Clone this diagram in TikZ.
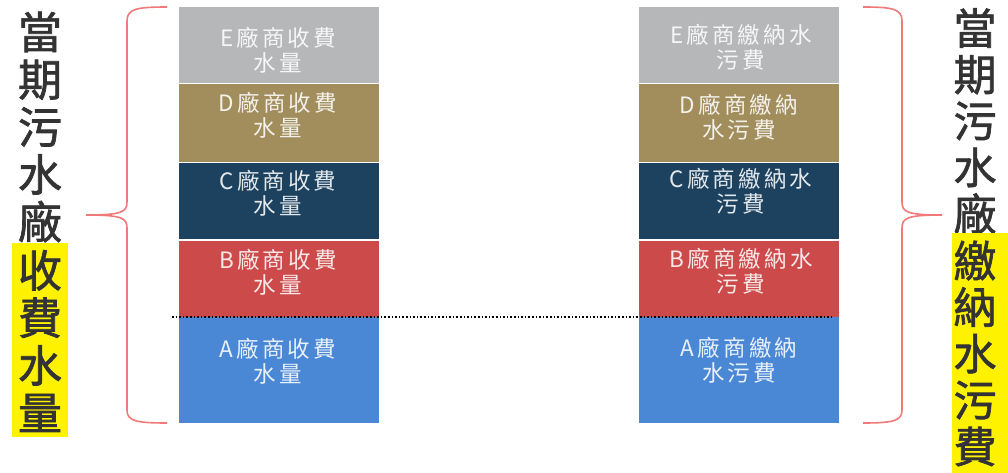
\documentclass[tikz,border=0pt]{standalone}
\usepackage{fontspec}
\newfontfamily\cjk{Noto Sans CJK TC}[LetterSpace=14]
\newfontfamily\cjkv{Noto Sans CJK TC}[FakeBold=1.6]
\definecolor{cE}{HTML}{B5B7B9}
\definecolor{cD}{HTML}{A28E5C}
\definecolor{cC}{HTML}{1C4260}
\definecolor{cB}{HTML}{CC4A4A}
\definecolor{cA}{HTML}{4A88D6}
\definecolor{brace}{HTML}{F07A7A}
\definecolor{hl}{HTML}{FFF200}
\begin{document}
\begin{tikzpicture}[x=1pt,y=-1pt,
  box/.style={rectangle,inner sep=0pt,minimum width=200pt,draw=none},
  boxtext/.style={font=\cjk\fontsize{22.5}{25}\selectfont,align=center,text=white,text opacity=0.88,inner sep=0pt},
  vtext/.style={font=\cjkv\fontsize{44}{47.5}\selectfont,align=center,text=black!80,inner sep=0pt},
  vtextR/.style={font=\cjkv\fontsize{43}{46.5}\selectfont,align=center,text=black!80,inner sep=0pt},
  bracestyle/.style={draw=brace,line width=1.6pt},
]
\useasboundingbox (0,0) rectangle (1008,473);
\fill[white] (0,0) rectangle (1008,473);
% left column boxes
\node[box,fill=cE,minimum height=76pt] (LE) at (278.5,45) {};
\node[box,fill=cD,minimum height=78pt] (LD) at (278.5,123) {};
\node[box,fill=cC,minimum height=75pt] (LC) at (278.5,201) {};
\node[box,fill=cB,minimum height=76pt] (LB) at (278.5,278.5) {};
\node[box,fill=cA,minimum height=106pt] (LA) at (278.5,370) {};
% right column boxes
\node[box,fill=cE,minimum height=76pt] (RE) at (738.5,45) {};
\node[box,fill=cD,minimum height=78pt] (RD) at (738.5,123) {};
\node[box,fill=cC,minimum height=75pt] (RC) at (738.5,201) {};
\node[box,fill=cB,minimum height=76pt] (RB) at (738.5,278.5) {};
\node[box,fill=cA,minimum height=106pt] (RA) at (738.5,370) {};
% box texts
\node[boxtext] (tLE) at (278,50) {E廠商收費\\水量};
\node[boxtext] (tLD) at (278,115) {D廠商收費\\水量};
\node[boxtext] (tLC) at (278,193) {C廠商收費\\水量};
\node[boxtext] (tLB) at (278,272) {B廠商收費\\水量};
\node[boxtext] (tLA) at (278,361) {A廠商收費\\水量};
\node[boxtext] (tRE) at (741,47) {E廠商繳納水\\污費};
\node[boxtext] (tRD) at (739,117) {D廠商繳納\\水污費};
\node[boxtext] (tRC) at (741,191) {C廠商繳納水\\污費};
\node[boxtext] (tRB) at (741,271) {B廠商繳納水\\污費};
\node[boxtext] (tRA) at (739,360) {A廠商繳納\\水污費};
% dotted line
\coordinate (dl) at (172,317);
\coordinate (dr) at (834,317);
\draw[black,dotted,line width=1.6pt] (dl) -- (dr);
% left brace
\coordinate (lbTop) at (167,7);
\coordinate (lbTip) at (86,215);
\coordinate (lbBot) at (167,423);
\draw[bracestyle] (lbTop) .. controls (136,7) and (127,9) .. (127,21) -- (127,202)
  .. controls (127,212) and (122,215) .. (lbTip)
  .. controls (122,215) and (127,218) .. (127,228) -- (127,410)
  .. controls (127,421) and (136,423) .. (lbBot);
% right brace
\coordinate (rbTop) at (863,7);
\coordinate (rbTip) at (942,215);
\coordinate (rbBot) at (863,423);
\draw[bracestyle] (rbTop) .. controls (893,7) and (902,9) .. (902,21) -- (902,202)
  .. controls (902,212) and (907,215) .. (rbTip)
  .. controls (907,215) and (902,218) .. (902,228) -- (902,410)
  .. controls (902,421) and (893,423) .. (rbBot);
% left vertical title
\node[vtext] (LT1) at (40,127) {當\\期\\污\\水\\廠};
\fill[hl] (12,243) rectangle (68,437);
\node[vtext] (LT2) at (40,341) {收\\費\\水\\量};
% right vertical title
\node[vtextR] (RT1) at (975,121) {當\\期\\污\\水\\廠};
\fill[hl] (952,233) rectangle (1008,473);
\node[vtextR] (RT2) at (975,353.5) {繳\\納\\水\\污\\費};
\end{tikzpicture}
\end{document}
